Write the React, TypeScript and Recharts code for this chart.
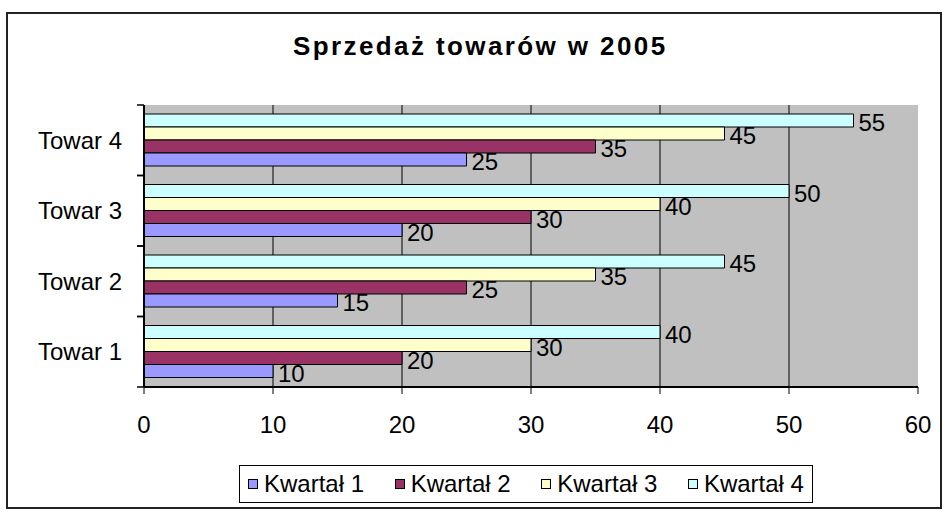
import React from 'react'
import {
  Bar,
  BarChart,
  CartesianGrid,
  LabelList,
  Legend,
  XAxis,
  YAxis
} from 'recharts'

const categories = ['Towar 1', 'Towar 2', 'Towar 3', 'Towar 4']
const kwartal1 = [10, 15, 20, 25]
const kwartal2 = [20, 25, 30, 35]
const kwartal3 = [30, 35, 40, 45]
const kwartal4 = [40, 45, 50, 55]
const xTicks = [0, 10, 20, 30, 40, 50, 60]

const series = [
  { key: 'k1', name: 'Kwartał 1', values: kwartal1, color: '#9999ff' },
  { key: 'k2', name: 'Kwartał 2', values: kwartal2, color: '#993366' },
  { key: 'k3', name: 'Kwartał 3', values: kwartal3, color: '#ffffcc' },
  { key: 'k4', name: 'Kwartał 4', values: kwartal4, color: '#ccffff' }
]

const data = categories.map((name, i) => {
  const row: { [key: string]: string | number } = { name }
  series.forEach(s => {
    row[s.key] = s.values[i]
  })
  return row
})

const FONT = '"Liberation Sans", Arial, sans-serif'
const Y_TICK_MARGIN = 22
const Y_TICK_LEN = 7

const LegendBox = () => (
  <div
    style={{
      display: 'flex',
      alignItems: 'center',
      justifyContent: 'space-between',
      border: '1px solid #000',
      background: '#fff',
      width: 574,
      height: 38,
      padding: '0 8px',
      boxSizing: 'border-box',
      fontFamily: FONT,
      fontSize: 24,
      color: '#000',
      whiteSpace: 'nowrap'
    }}
  >
    {series.map(s => (
      <span key={s.key} style={{ display: 'flex', alignItems: 'center' }}>
        <span
          style={{
            display: 'inline-block',
            width: 8,
            height: 8,
            border: '1px solid #000',
            background: s.color,
            marginRight: 6
          }}
        />
        {s.name}
      </span>
    ))}
  </div>
)

// Excel puts the category ticks between categories, not at band centres
const CategoryTick = (props: any) => {
  const { x, y, payload } = props
  const half = payload && payload.offset ? payload.offset : 0
  const axisX = x + Y_TICK_MARGIN
  return (
    <g>
      <line x1={axisX - Y_TICK_LEN} x2={axisX} y1={y - half} y2={y - half} stroke="#000" strokeWidth={1.5} />
      <line x1={axisX - Y_TICK_LEN} x2={axisX} y1={y + half} y2={y + half} stroke="#000" strokeWidth={1.5} />
      <text x={x} y={y} dy="0.355em" textAnchor="end" fill="#000" fontSize={24}>
        {payload.value}
      </text>
    </g>
  )
}

const App: React.FC = () => {
  return (
    <div
      style={{
        position: 'absolute',
        left: 0,
        top: 0,
        width: 947,
        height: 513,
        background: '#fff',
        fontFamily: FONT
      }}
    >
      <div
        style={{
          position: 'absolute',
          left: 6,
          top: 12,
          width: 932,
          height: 493,
          border: '2px solid #222'
        }}
      />
      <div
        style={{
          position: 'absolute',
          left: 293,
          top: 31,
          width: 380,
          fontSize: 26,
          fontWeight: 'bold',
          letterSpacing: 2.4,
          color: '#000',
          whiteSpace: 'nowrap'
        }}
      >
        Sprzedaż towarów w 2005
      </div>
      <div style={{ position: 'absolute', left: 0, top: 0 }}>
        <BarChart
          width={947}
          height={513}
          data={data}
          layout="vertical"
          barGap={0}
          barCategoryGap={9}
          margin={{ top: 105, right: 29, left: 64, bottom: 96 }}
          style={{ fontFamily: FONT }}
        >
          <CartesianGrid
            horizontal={false}
            verticalValues={[10, 20, 30, 40, 50]}
            stroke="#000"
            fill="#c0c0c0"
            fillOpacity={1}
          />
          <XAxis
            type="number"
            domain={[0, 60]}
            ticks={xTicks}
            height={30}
            tickSize={7}
            tickMargin={22}
            tickLine={{ stroke: '#000' }}
            axisLine={{ stroke: '#000', strokeWidth: 2 }}
            tick={{ fill: '#000', fontSize: 24 }}
          />
          <YAxis
            type="category"
            dataKey="name"
            reversed
            width={80}
            tickSize={0}
            tickMargin={Y_TICK_MARGIN}
            tickLine={false}
            axisLine={{ stroke: '#000', strokeWidth: 2 }}
            tick={<CategoryTick />}
          />
          <Legend
            layout="horizontal"
            verticalAlign="middle"
            align="center"
            wrapperStyle={{ left: 239, top: 465, width: 574, bottom: 'auto' }}
            content={() => <LegendBox />}
          />
          {[...series].reverse().map(s => (
            <Bar
              key={s.key}
              dataKey={s.key}
              name={s.name}
              fill={s.color}
              stroke="#000"
              strokeWidth={1}
              isAnimationActive={false}
            >
              <LabelList
                dataKey={s.key}
                position="right"
                offset={5}
                fill="#000"
                fontSize={24}
                dy={2}
              />
            </Bar>
          ))}
        </BarChart>
      </div>
    </div>
  )
}

export default App
